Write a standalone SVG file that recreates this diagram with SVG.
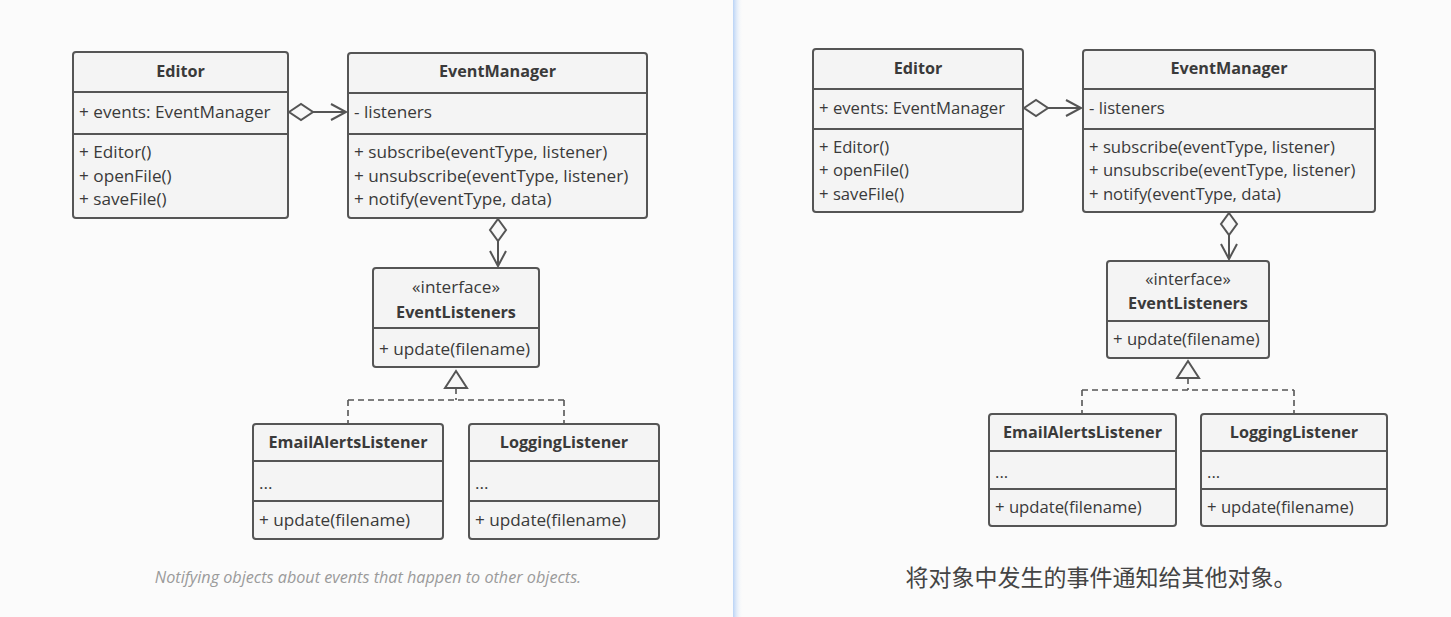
<svg xmlns="http://www.w3.org/2000/svg" width="1451" height="617" viewBox="0 0 1451 617">
<defs>
<linearGradient id="div" x1="0" y1="0" x2="1" y2="0">
<stop offset="0" stop-color="#b9d3f6"/>
<stop offset="1" stop-color="#fbfbfb" stop-opacity="0"/>
</linearGradient>
<style>
.box{fill:#f4f4f4;stroke:#555;stroke-width:2}
.sep{stroke:#555;stroke-width:2}
.t{font-family:"Open Sans","Noto Sans",sans-serif;font-size:17.2px;fill:#3a3a3a}
.r{font-size:16.7px}
.b{font-weight:bold;text-anchor:middle;font-size:16.2px}
.c{text-anchor:middle}
.ln{fill:none;stroke:#555;stroke-width:2}
.dia{fill:#f8f8f8;stroke:#555;stroke-width:2}
.dash{fill:none;stroke:#555;stroke-width:1.6;stroke-dasharray:6,4}
</style>
</defs>
<rect width="1451" height="617" fill="#fbfbfb"/>
<rect x="733" y="0" width="10" height="617" fill="url(#div)"/>

<g id="connectors">
<path class="dia" d="M289,112 L301,104 L313,112 L301,120 Z"/>
<path class="ln" d="M313,112 H346 M331,104 L346,112 L331,120"/>
<path class="dia" d="M498,219 L506,230 L498,241 L490,230 Z"/>
<path class="ln" d="M498,241 V266 M490,251 L498,266 L506,251"/>
<path class="dia" d="M456,371 L467,388 L445,388 Z"/>
<path class="dash" d="M456,388 V400 M348,400 H564 M348,400 V424 M564,400 V424"/>
<path class="dia" d="M1024,108 L1036,100 L1048,108 L1036,116 Z"/>
<path class="ln" d="M1048,108 H1081 M1066,100 L1081,108 L1066,116"/>
<path class="dia" d="M1229,213 L1237,224 L1229,235 L1221,224 Z"/>
<path class="ln" d="M1229,235 V259 M1221,244 L1229,259 L1237,244"/>
<path class="dia" d="M1188,361 L1199,378 L1177,378 Z"/>
<path class="dash" d="M1188,378 V390 M1082,390 H1294 M1082,390 V414 M1294,390 V414"/>
</g>

<g id="editor-left">
<rect class="box" x="73" y="52" width="215" height="166" rx="3"/>
<path class="sep" d="M73,92 H288 M73,134 H288"/>
<text class="t b" x="180.5" y="77">Editor</text>
<text class="t" x="79" y="118">+ events: EventManager</text>
<text class="t" x="79" y="158">+ Editor()</text>
<text class="t" x="79" y="182">+ openFile()</text>
<text class="t" x="79" y="205">+ saveFile()</text>
</g>
<g id="eventmanager-left">
<rect class="box" x="348" y="53" width="299" height="165" rx="3"/>
<path class="sep" d="M348,93 H647 M348,134 H647"/>
<text class="t b" x="497.5" y="77">EventManager</text>
<text class="t" x="354" y="118">- listeners</text>
<text class="t" x="354" y="158">+ subscribe(eventType, listener)</text>
<text class="t" x="354" y="182">+ unsubscribe(eventType, listener)</text>
<text class="t" x="354" y="205">+ notify(eventType, data)</text>
</g>
<g id="eventlisteners-left">
<rect class="box" x="373" y="268" width="166" height="99" rx="3"/>
<path class="sep" d="M373,328 H539"/>
<text class="t c" x="456" y="293">«interface»</text>
<text class="t b" x="456" y="318">EventListeners</text>
<text class="t" x="379" y="355">+ update(filename)</text>
</g>
<g id="emailalerts-left">
<rect class="box" x="253" y="424" width="190" height="115" rx="3"/>
<path class="sep" d="M253,461 H443 M253,501 H443"/>
<text class="t b" x="348" y="448">EmailAlertsListener</text>
<text class="t" x="259" y="489">...</text>
<text class="t" x="259" y="526">+ update(filename)</text>
</g>
<g id="logging-left">
<rect class="box" x="469" y="424" width="190" height="115" rx="3"/>
<path class="sep" d="M469,461 H659 M469,501 H659"/>
<text class="t b" x="564" y="448">LoggingListener</text>
<text class="t" x="475" y="489">...</text>
<text class="t" x="475" y="526">+ update(filename)</text>
</g>
<text x="368" y="583" font-family="Open Sans, Noto Sans, sans-serif" font-size="16.2" font-style="italic" fill="#9a9a9a" text-anchor="middle">Notifying objects about events that happen to other objects.</text>

<g id="editor-right">
<rect class="box" x="813" y="49" width="210" height="163" rx="3"/>
<path class="sep" d="M813,89 H1023 M813,129 H1023"/>
<text class="t r b" x="918" y="74">Editor</text>
<text class="t r" x="819" y="114">+ events: EventManager</text>
<text class="t r" x="819" y="153">+ Editor()</text>
<text class="t r" x="819" y="176">+ openFile()</text>
<text class="t r" x="819" y="200">+ saveFile()</text>
</g>
<g id="eventmanager-right">
<rect class="box" x="1083" y="50" width="292" height="162" rx="3"/>
<path class="sep" d="M1083,89 H1375 M1083,129 H1375"/>
<text class="t r b" x="1229" y="74">EventManager</text>
<text class="t r" x="1089" y="114">- listeners</text>
<text class="t r" x="1089" y="153">+ subscribe(eventType, listener)</text>
<text class="t r" x="1089" y="176">+ unsubscribe(eventType, listener)</text>
<text class="t r" x="1089" y="200">+ notify(eventType, data)</text>
</g>
<g id="eventlisteners-right">
<rect class="box" x="1107" y="261" width="162" height="97" rx="3"/>
<path class="sep" d="M1107,321 H1269"/>
<text class="t r c" x="1188" y="285">«interface»</text>
<text class="t r b" x="1188" y="309">EventListeners</text>
<text class="t r" x="1113" y="345">+ update(filename)</text>
</g>
<g id="emailalerts-right">
<rect class="box" x="989" y="414" width="187" height="112" rx="3"/>
<path class="sep" d="M989,451 H1176 M989,489 H1176"/>
<text class="t r b" x="1082.5" y="438">EmailAlertsListener</text>
<text class="t r" x="995" y="478">...</text>
<text class="t r" x="995" y="513">+ update(filename)</text>
</g>
<g id="logging-right">
<rect class="box" x="1201" y="414" width="186" height="112" rx="3"/>
<path class="sep" d="M1201,451 H1387 M1201,489 H1387"/>
<text class="t r b" x="1294" y="438">LoggingListener</text>
<text class="t r" x="1207" y="478">...</text>
<text class="t r" x="1207" y="513">+ update(filename)</text>
</g>
<text x="1101" y="586" font-family="Noto Sans, Noto Sans CJK SC, sans-serif" font-size="23" fill="#444" text-anchor="middle">将对象中发生的事件通知给其他对象。</text>
</svg>
